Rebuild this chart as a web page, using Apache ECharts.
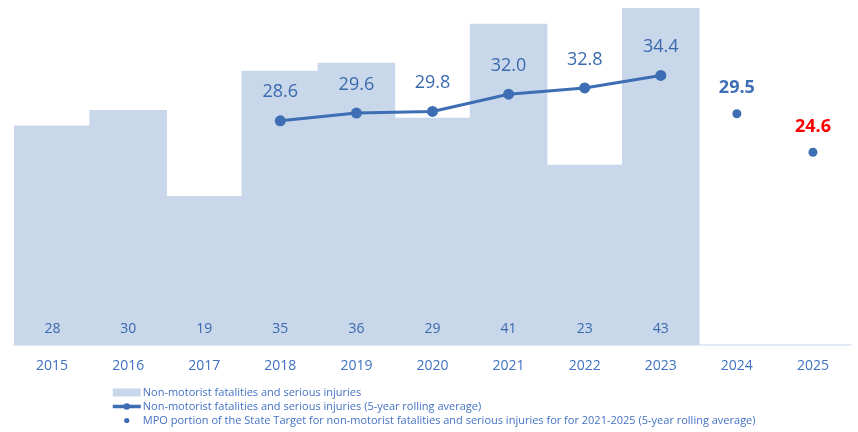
<!DOCTYPE html>
<html><head><meta charset="utf-8">
<script src="https://cdn.jsdelivr.net/npm/echarts@6/dist/echarts.min.js"></script>
<style>html,body{margin:0;padding:0;background:#fff}#c{width:858px;height:432px}</style>
</head><body><div id="c"></div>
<script>
const years = ['2015','2016','2017','2018','2019','2020','2021','2022','2023','2024','2025'];
const annual = [28,30,19,35,36,29,41,23,43,null,null];
const rolling = [null,null,null,28.6,29.6,29.8,32.0,32.8,34.4,null,null];
const target = [null,null,null,null,null,null,null,null,null,29.5,24.6];
const targetColors = ['#3f6fb4','#ff0000'];
const names = ['Non-motorist fatalities and serious injuries',
  'Non-motorist fatalities and serious injuries (5-year rolling average)',
  'MPO portion of the State Target for non-motorist fatalities and serious injuries for for 2021-2025 (5-year rolling average)'];
const FONT = 'Open Sans';
const chart = echarts.init(document.getElementById('c'));
let ti = 0;
chart.setOption({
  animation:false,
  textStyle:{fontFamily:FONT},
  grid:{left:14,right:7,top:8,bottom:87},
  xAxis:{type:'category',data:years,
    axisLine:{lineStyle:{color:'#d9e1f2',width:1.5}},
    axisTick:{show:false},
    axisLabel:{color:'#3f72c0',fontSize:14,margin:14,fontFamily:FONT}},
  yAxis:{type:'value',min:0,max:43,show:false,splitLine:{show:false}},
  legend:{orient:'vertical',left:106,top:382,itemGap:3,itemWidth:28,itemHeight:8,
    textStyle:{color:'#4472c4',fontSize:11,fontFamily:FONT,padding:[0,0,0,-3]},
    data:[{name:names[0],icon:'rect'},
      {name:names[1],lineStyle:{width:3.5}},
      {name:names[2],icon:'path://M0 0M28 8M14 4m-2.6 0a2.6 2.6 0 1 0 5.2 0a2.6 2.6 0 1 0 -5.2 0z'}]},
  series:[
    {name:names[0],type:'bar',data:annual,barWidth:'102%',
      itemStyle:{color:'#c9d7ea'},
      label:{show:true,position:'insideBottom',distance:9,color:'#3a69ad',fontSize:14,fontFamily:FONT}},
    {name:names[1],type:'line',data:rolling,connectNulls:false,
      lineStyle:{color:'#3d6db2',width:3},itemStyle:{color:'#3d6db2'},
      symbol:'circle',symbolSize:11,
      label:{show:true,position:'top',distance:14,color:'#3a69ad',fontSize:18,fontFamily:FONT,
        formatter:p=>p.value==null?'':Number(p.value).toFixed(1)}},
    {name:names[2],type:'scatter',data:target.map((v,i)=>{
        if(v==null) return null;
        const c = targetColors[ti++];
        return {value:v,label:{color:c}};
      }),
      symbol:'circle',symbolSize:9,itemStyle:{color:'#3d6db2',opacity:1},
      label:{show:true,position:'top',distance:12,fontSize:18,fontWeight:'bold',fontFamily:FONT,
        formatter:p=>Number(p.value).toFixed(1)}}
  ]
});
</script></body></html>
